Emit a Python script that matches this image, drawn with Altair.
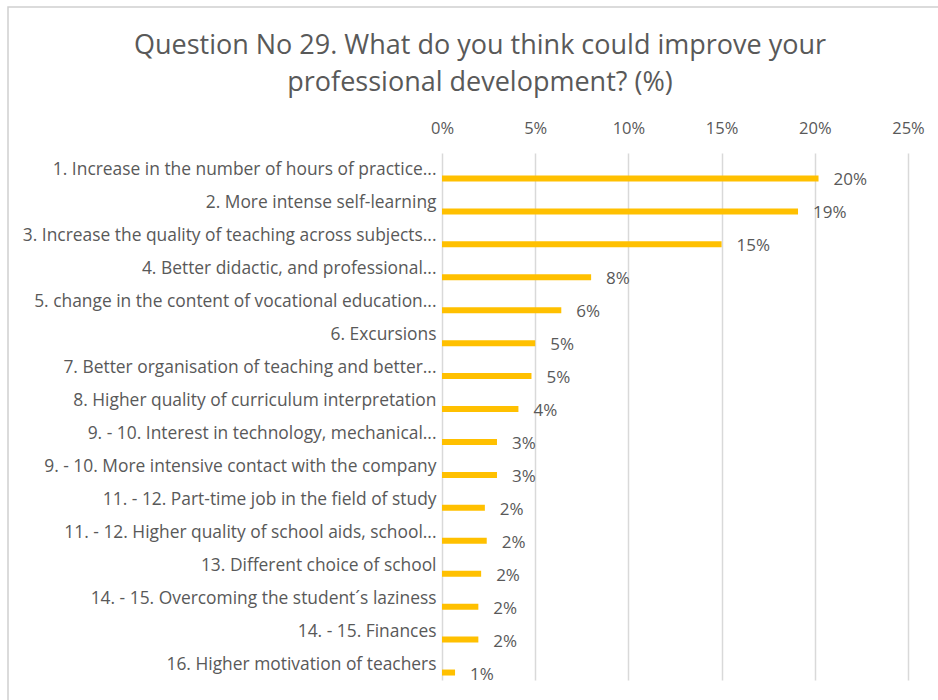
import altair as alt
import pandas as pd

categories = [
    "1. Increase in the number of hours of practice...",
    "2. More intense self-learning",
    "3. Increase the quality of teaching across subjects...",
    "4. Better didactic, and professional...",
    "5. change in the content of vocational education...",
    "6. Excursions",
    "7. Better organisation of teaching and better...",
    "8. Higher quality of curriculum interpretation",
    "9. - 10. Interest in technology, mechanical...",
    "9. - 10. More intensive contact with the company",
    "11. - 12. Part-time job in the field of study",
    "11. - 12. Higher quality of school aids, school...",
    "13. Different choice of school",
    "14. - 15. Overcoming the student\u00b4s laziness",
    "14. - 15. Finances",
    "16. Higher motivation of teachers",
]
values = [0.202, 0.191, 0.150, 0.080, 0.064, 0.050, 0.048, 0.041,
          0.0295, 0.0295, 0.023, 0.024, 0.021, 0.0195, 0.0195, 0.007]
tick_values = [0.0, 0.05, 0.10, 0.15, 0.20, 0.25]
title_lines = ["Question No 29. What do you think could improve your",
               "professional  development? (%)"]

df = pd.DataFrame({"category": categories, "value": values})

FONT = "Open Sans"
GRAY = "#595959"
BAR = "#FFC000"
W, H = 466, 527

y_enc = alt.Y(
    "category:N", sort=categories,
    scale=alt.Scale(paddingInner=0, paddingOuter=0),
    axis=alt.Axis(title=None, ticks=False, domain=False, labelPadding=6,
                  labelLimit=600, labelFont=FONT, labelFontSize=17.4,
                  labelColor=GRAY, labelOffset=1),
)
x_enc = alt.X(
    "value:Q",
    scale=alt.Scale(domain=[0, 0.25], nice=False, zero=True),
    axis=alt.Axis(orient="top", values=tick_values, format=".0%", title=None,
                  grid=True, gridColor="#D9D9D9", gridWidth=1.5, domain=False,
                  ticks=False, labelPadding=17, labelFont=FONT,
                  labelFontSize=16.5, labelColor=GRAY, labelFlush=False),
)

base = alt.Chart(df)
bars = base.mark_bar(color=BAR, height=6, yOffset=9).encode(x=x_enc, y=y_enc)
labels = base.mark_text(align="left", baseline="middle", dx=15, dy=11,
                        font=FONT, fontSize=17, color=GRAY).encode(
    x="value:Q", y=alt.Y("category:N", sort=categories),
    text=alt.Text("value:Q", format=".0%"),
)
frame = alt.Chart(pd.DataFrame({"k": [0]})).mark_rect(
    fill=None, stroke="#D0D0D0", strokeWidth=1.5
).encode(x=alt.value(-434), x2=alt.value(W + 60),
         y=alt.value(-146), y2=alt.value(H + 60))

chart = alt.layer(frame, bars, labels).properties(
    width=W, height=H,
    padding={"left": 442, "top": 153, "right": 30, "bottom": 20},
    autosize=alt.AutoSizeParams(type="none"),
    background="white",
    title=alt.TitleParams(title_lines, anchor="middle", dx=-195, offset=-91,
                          font=FONT, fontSize=27, fontWeight="normal",
                          color=GRAY, lineHeight=37),
).configure_view(stroke=None)

chart.save("out.html", embed_options={"renderer": "svg", "actions": False})
